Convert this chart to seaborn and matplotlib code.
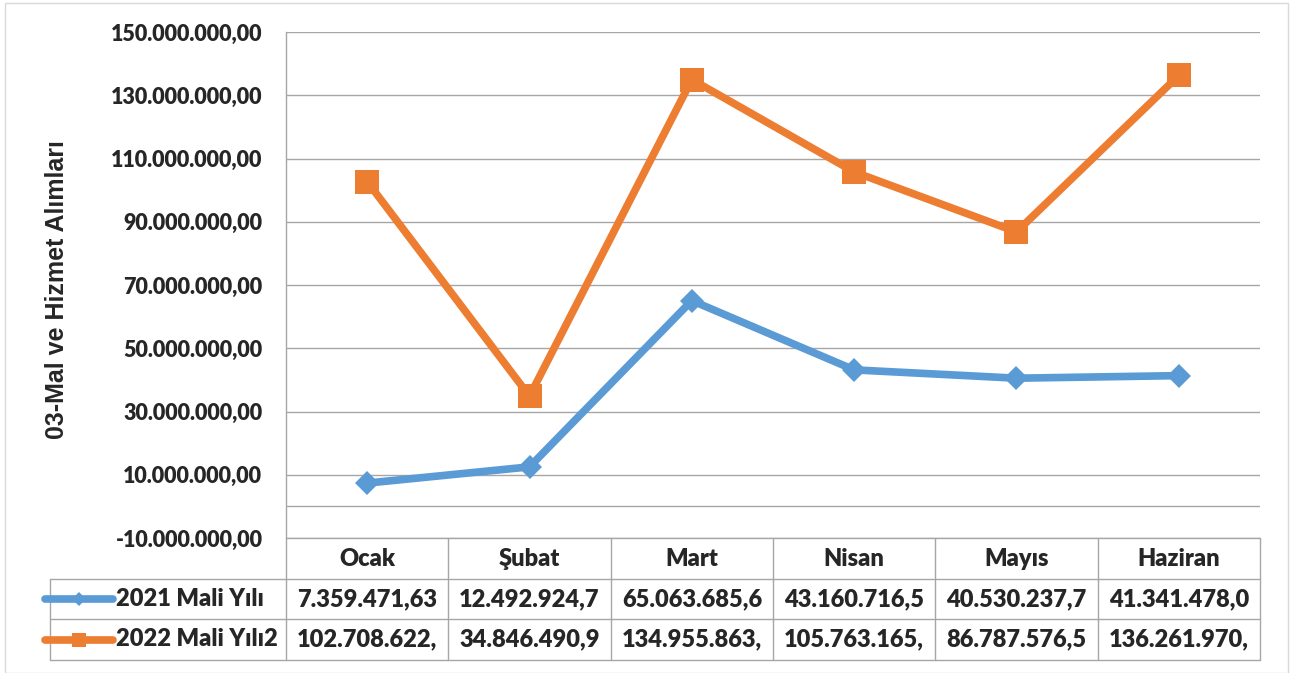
import pandas as pd
import matplotlib
matplotlib.use("Agg")
import matplotlib.pyplot as plt
import matplotlib.transforms as mtransforms
from matplotlib.lines import Line2D
from matplotlib.patches import Rectangle
import seaborn as sns

months = ['Ocak', 'Şubat', 'Mart', 'Nisan', 'Mayıs', 'Haziran']
series_names = ['2021 Mali Yılı', '2022 Mali Yılı2']
values_2021 = [7359471.63, 12492924.70, 65063685.60, 43160716.50, 40530237.70, 41341478.00]
values_2022 = [102708622.00, 34846490.90, 134955863.00, 105763165.00, 86787576.50, 136261970.00]
y_ticks = [-10e6, 10e6, 30e6, 50e6, 70e6, 90e6, 110e6, 130e6, 150e6]
y_label = '03-Mal ve Hizmet Alımları'

colors = {'2021 Mali Yılı': '#5B9BD5', '2022 Mali Yılı2': '#ED7D31'}
markers = {'2021 Mali Yılı': 'D', '2022 Mali Yılı2': 's'}
msizes = {'2021 Mali Yılı': 12, '2022 Mali Yılı2': 17}
grid_c = '#A6A6A6'
fw = 'heavy'


def tr_fmt(v):
    s = f"{v:,.2f}"
    return s.replace(',', '#').replace('.', ',').replace('#', '.')


df = pd.DataFrame({
    'pos': list(range(len(months))) * 2,
    'value': values_2021 + values_2022,
    'series': [series_names[0]] * len(months) + [series_names[1]] * len(months),
})

sns.set_style('white')
plt.rcParams['font.family'] = ['Lato', 'DejaVu Sans']

W, H = 1293, 673
fig = plt.figure(figsize=(W / 100, H / 100), dpi=100)
ax = fig.add_axes([286 / W, 1 - 538 / H, (1260 - 286) / W, (538 - 32) / H])

sns.lineplot(data=df, x='pos', y='value', hue='series', style='series',
             palette=colors, markers=markers, dashes=False, linewidth=5.5,
             markeredgewidth=0, legend=False, ax=ax, zorder=5)
for line, name in zip(ax.get_lines(), series_names):
    line.set_markersize(msizes[name])

ax.set_xlim(-0.5, len(months) - 0.5)
ax.set_ylim(y_ticks[0], y_ticks[-1])
ax.set_yticks(y_ticks)
ax.set_yticklabels([tr_fmt(v) for v in y_ticks], fontsize=15.5, fontweight=fw)
ax.set_xticks([])
ax.tick_params(axis='y', length=0, pad=17)
ax.grid(True, axis='y', color=grid_c, linewidth=1.0)
ax.axhline(0, color=grid_c, linewidth=1.0, zorder=1)
for s in ['top', 'right', 'bottom']:
    ax.spines[s].set_visible(False)
ax.spines['left'].set_color(grid_c)
ax.spines['left'].set_linewidth(1.0)
ax.set_xlabel('')
ax.set_ylabel('')

fig.text(57 / W, 1 - 290 / H, y_label, rotation=90, ha='center', va='center',
         fontsize=18, fontweight='bold', family=['Liberation Sans', 'DejaVu Sans'])

# data table below the plot
fy = lambda p: 1 - p / H
tb = mtransforms.blended_transform_factory(ax.transData, fig.transFigure)
tf = fig.transFigure
rows = [538, 579, 619, 660]
x_left_px = 50
n = len(months)
for i in range(n + 1):
    fig.add_artist(Line2D([i - 0.5, i - 0.5], [fy(rows[0]), fy(rows[-1])],
                          transform=tb, color=grid_c, lw=1.0))
fig.add_artist(Line2D([-0.5, n - 0.5], [fy(rows[0])] * 2, transform=tb, color=grid_c, lw=1.0))
x_left_data = ax.transData.inverted().transform((x_left_px, 0))[0]
for r in rows[1:]:
    fig.add_artist(Line2D([x_left_data, n - 0.5], [fy(r)] * 2, transform=tb, color=grid_c, lw=1.0))
fig.add_artist(Line2D([x_left_px / W] * 2, [fy(rows[1]), fy(rows[-1])], transform=tf, color=grid_c, lw=1.0))

for i, m in enumerate(months):
    fig.text(i, fy((rows[0] + rows[1]) / 2), m, transform=tb, ha='center', va='center',
             fontsize=17, fontweight=fw)

for k, (name, vals) in enumerate(zip(series_names, [values_2021, values_2022])):
    yc = fy((rows[k + 1] + rows[k + 2]) / 2)
    fig.add_artist(Line2D([45 / W, 113 / W], [yc, yc], transform=tf, color=colors[name],
                          lw=5.5, solid_capstyle='round'))
    fig.add_artist(Line2D([79 / W], [yc], transform=tf, color=colors[name], marker=markers[name],
                          markersize=msizes[name] * 0.62, markeredgewidth=0, linestyle='none'))
    fig.text(116 / W, yc, name, transform=tf, ha='left', va='center', fontsize=17, fontweight=fw)
    for i, v in enumerate(vals):
        fig.text(i, yc, tr_fmt(v)[:12], transform=tb, ha='center', va='center',
                 fontsize=17, fontweight=fw)

fig.add_artist(Rectangle((5 / W, 0), 1283 / W, 1 - 3 / H, transform=tf, fill=False,
                         edgecolor='#D9D9D9', lw=1.0))

fig.savefig('out.png', dpi=100, facecolor='white')
